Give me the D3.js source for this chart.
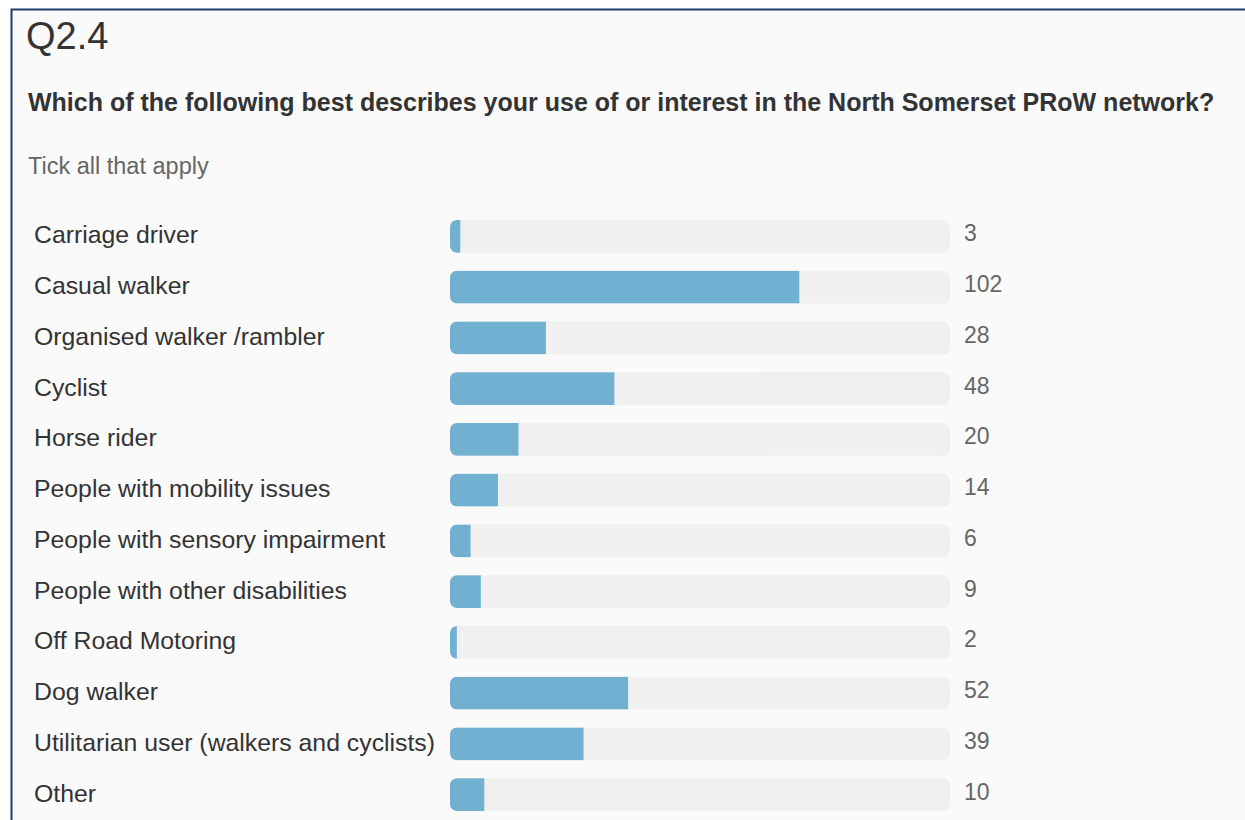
<!DOCTYPE html>
<html>
<head>
<meta charset="utf-8">
<script src="https://cdn.jsdelivr.net/npm/d3@7"></script>
<style>
  html, body { margin: 0; padding: 0; background: #ffffff; }
  svg { display: block; font-family: "Liberation Sans", Arial, sans-serif; }
</style>
</head>
<body>
<svg id="chart" width="1245" height="820"></svg>
<script>
// Responses to Q2.4 (tick all that apply)
const categories = [
  "Carriage driver",
  "Casual walker",
  "Organised walker /rambler",
  "Cyclist",
  "Horse rider",
  "People with mobility issues",
  "People with sensory impairment",
  "People with other disabilities",
  "Off Road Motoring",
  "Dog walker",
  "Utilitarian user (walkers and cyclists)",
  "Other"
];
const counts = [3, 102, 28, 48, 20, 14, 6, 9, 2, 52, 39, 10];
const respondents = 146; // full length of each track

const questionId = "Q2.4";
const questionText = "Which of the following best describes your use of or interest in the North Somerset PRoW network?";
const instruction = "Tick all that apply";

const svg = d3.select("#chart");

// panel with dark frame
svg.append("rect")
  .attr("x", 11.5).attr("y", 9.5)
  .attr("width", 1300).attr("height", 900)
  .attr("fill", "#fafafa")
  .attr("stroke", "#1f3a6b").attr("stroke-width", 2);

svg.append("text")
  .attr("x", 26).attr("y", 49)
  .attr("font-size", 38).attr("fill", "#333")
  .text(questionId);

svg.append("text")
  .attr("x", 28).attr("y", 111)
  .attr("font-size", 25).attr("font-weight", "bold").attr("fill", "#333")
  .text(questionText);

svg.append("text")
  .attr("x", 28).attr("y", 174)
  .attr("font-size", 23.5).attr("fill", "#666")
  .text(instruction);

const x = d3.scaleLinear().domain([0, respondents]).range([450, 950]);
const y = d3.scaleBand().domain(categories).range([211, 820]).paddingInner(0.35).paddingOuter(0.175);

const defs = svg.append("defs");
const rows = svg.append("g").selectAll("g")
  .data(categories.map((c, i) => ({ cat: c, val: counts[i], i })))
  .join("g");

rows.each(function (d) {
  defs.append("clipPath").attr("id", "track" + d.i)
    .append("rect")
    .attr("x", x(0)).attr("y", y(d.cat))
    .attr("width", x(respondents) - x(0)).attr("height", y.bandwidth())
    .attr("rx", 7);
});

rows.append("rect")
  .attr("x", x(0)).attr("y", d => y(d.cat))
  .attr("width", x(respondents) - x(0)).attr("height", y.bandwidth())
  .attr("rx", 7).attr("fill", "#f0f0f0");

rows.append("rect")
  .attr("clip-path", d => `url(#track${d.i})`)
  .attr("x", x(0)).attr("y", d => y(d.cat))
  .attr("width", d => x(d.val) - x(0)).attr("height", y.bandwidth())
  .attr("fill", "#71b0d0");

rows.append("text")
  .attr("x", 34).attr("y", d => y(d.cat) + y.bandwidth() / 2 + 7)
  .attr("font-size", 24.8).attr("fill", "#333")
  .text(d => d.cat);

rows.append("text")
  .attr("x", 964).attr("y", d => y(d.cat) + y.bandwidth() / 2 + 5)
  .attr("font-size", 23).attr("fill", "#666")
  .text(d => d.val);
</script>
</body>
</html>
